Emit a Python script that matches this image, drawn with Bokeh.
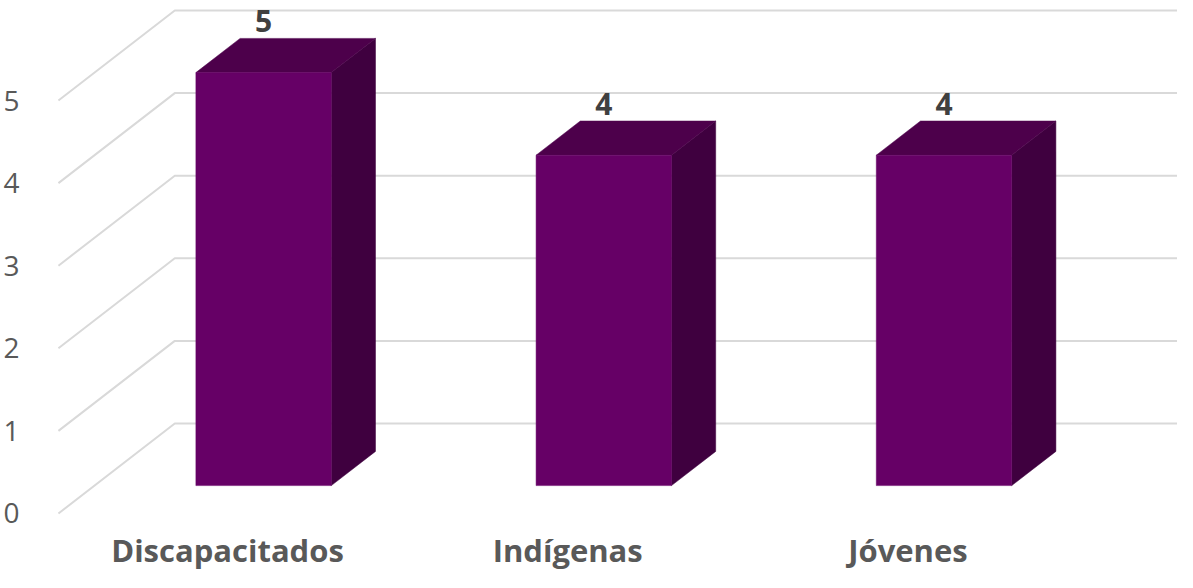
from bokeh.plotting import figure
from bokeh.models import ColumnDataSource, FixedTicker, Range1d
from bokeh.core.properties import value
from bokeh.embed import file_html
from bokeh.resources import INLINE

# ---- data ----
categories = ["Discapacitados", "Indígenas", "Jóvenes"]
values = [5, 4, 4]
y_ticks = [0, 1, 2, 3, 4, 5]

# ---- 3D projection style constants (data units) ----
DX = 0.342      # horizontal shift from front wall to back wall
DY = 1.0896     # vertical shift from front wall to back wall
WALL_X = -0.497 # x of the front edge of the side wall
ZF, ZB = 0.31, 0.69  # bar depth (front / back), fraction of the depth
HW = 0.199      # half bar width
GRID_END = 3.0
LABEL_GAP = 0.21
CAT_LABEL_Y = -0.44

FRONT = "#660066"
TOP = "#4d004b"
SIDE = "#3f003f"
GRID = "#d9d9d9"

p = figure(width=1177, height=572, output_backend="svg", toolbar_location=None,
           x_range=Range1d(-0.5556, 2.7924), y_range=Range1d(-0.7143, 6.2107),
           min_border_left=32, min_border_right=0, min_border_top=0, min_border_bottom=0)
p.outline_line_color = None
p.xgrid.visible = False
p.ygrid.visible = False
p.background_fill_color = "white"
p.border_fill_color = "white"

# gridlines: side wall diagonal + back wall horizontal
gx = [[WALL_X, WALL_X + DX, GRID_END] for _ in y_ticks]
gy = [[t, t + DY, t + DY] for t in y_ticks]
p.multi_line(gx, gy, line_color=GRID, line_width=2)

xs = list(range(len(categories)))
front_x, front_y, top_x, top_y, side_x, side_y = [], [], [], [], [], []
for c, v in zip(xs, values):
    l, r = c - HW, c + HW
    front_x.append([l + ZF * DX, r + ZF * DX, r + ZF * DX, l + ZF * DX])
    front_y.append([ZF * DY, ZF * DY, v + ZF * DY, v + ZF * DY])
    top_x.append([l + ZF * DX, r + ZF * DX, r + ZB * DX, l + ZB * DX])
    top_y.append([v + ZF * DY, v + ZF * DY, v + ZB * DY, v + ZB * DY])
    side_x.append([r + ZF * DX, r + ZB * DX, r + ZB * DX, r + ZF * DX])
    side_y.append([ZF * DY, ZB * DY, v + ZB * DY, v + ZF * DY])

p.patches(side_x, side_y, fill_color=SIDE, line_color=SIDE, line_width=0.5)
p.patches(top_x, top_y, fill_color=TOP, line_color=TOP, line_width=0.5)
p.patches(front_x, front_y, fill_color=FRONT, line_color=FRONT, line_width=0.5)

# data labels
lab = ColumnDataSource(dict(x=[c + ZF * DX for c in xs],
                            y=[v + ZB * DY + LABEL_GAP for v in values],
                            t=[str(v) for v in values]))
p.text(x="x", y="y", text="t", source=lab, text_align="center",
       text_baseline="alphabetic",
       text_font=value("Open Sans"), text_font_style="bold",
       text_font_size="30px", text_color="#404040")

# category labels (below the floor, on the category scale)
cat = ColumnDataSource(dict(x=xs, y=[CAT_LABEL_Y] * len(xs), t=categories))
p.text(x="x", y="y", text="t", source=cat, text_align="center",
       text_baseline="alphabetic",
       text_font=value("Open Sans"), text_font_style="bold",
       text_font_size="31px", text_color="#595959")

# axes
p.xaxis.visible = False

p.yaxis.ticker = FixedTicker(ticks=y_ticks)
p.yaxis.axis_line_color = None
p.yaxis.major_tick_line_color = None
p.yaxis.minor_tick_line_color = None
p.yaxis.major_label_standoff = 13
p.yaxis.major_label_text_font = "Open Sans"
p.yaxis.major_label_text_font_size = "28px"
p.yaxis.major_label_text_color = "#595959"

open("out.html", "w").write(file_html(p, INLINE))
